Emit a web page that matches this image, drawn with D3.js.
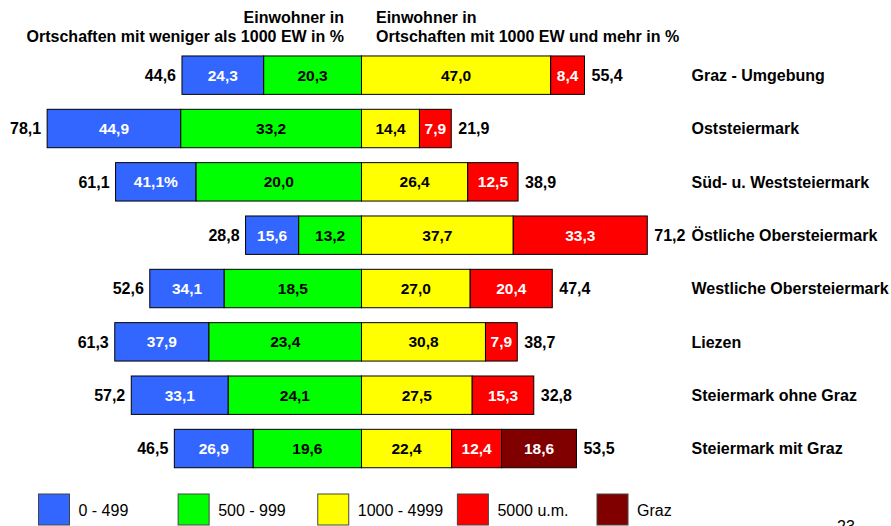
<!DOCTYPE html>
<html>
<head>
<meta charset="utf-8">
<script src="https://cdn.jsdelivr.net/npm/d3@7"></script>
<style>
	body { margin:0; background:#fff; }
	text { font-family: Arial, "Liberation Sans", sans-serif; }
</style>
</head>
<body>
<div id="plot"></div>
<script>
/* data */
var regions = ['Graz - Umgebung','Oststeiermark','Süd- u. Weststeiermark','Östliche Obersteiermark',
	'Westliche Obersteiermark','Liezen','Steiermark ohne Graz','Steiermark mit Graz'];
var v0_499 =     [24.3, 44.9, 41.1, 15.6, 34.1, 37.9, 33.1, 26.9];
var v500_999 =   [20.3, 33.2, 20.0, 13.2, 18.5, 23.4, 24.1, 19.6];
var v1000_4999 = [47.0, 14.4, 26.4, 37.7, 27.0, 30.8, 27.5, 22.4];
var v5000 =      [8.4, 7.9, 12.5, 33.3, 20.4, 7.9, 15.3, 12.4];
var vGraz =      [0, 0, 0, 0, 0, 0, 0, 18.6];
var leftTotals =  [44.6, 78.1, 61.1, 28.8, 52.6, 61.3, 57.2, 46.5];
var rightTotals = [55.4, 21.9, 38.9, 71.2, 47.4, 38.7, 32.8, 53.5];
var blueSuffix =  ['', '', '%', '', '', '', '', ''];
var legendLabels = ['0 - 499','500 - 999','1000 - 4999','5000 u.m.','Graz'];
var colors = ['#3366ff','#00ff00','#ffff00','#ff0000','#800000'];

var width = 891, height = 526;

var svg = d3.select('#plot')
	.append('svg')
	.attr('width', width)
	.attr('height', height);

var x = d3.scaleLinear().domain([-80, 80]).range([39.5, 683.5]);
var y = d3.scaleBand().domain(regions).range([48.5, 475.2])
	.paddingInner(0.28).paddingOuter(0.14);

function fmt(v) { return d3.format('.1f')(v).replace('.', ','); }

// one record per segment. the reference draws the inner (green) left piece
// with the 0-499 width and the outer (blue) piece with the 500-999 width
var segs = [];
regions.forEach(function (r, i) {
	var a = v0_499[i], b = v500_999[i];
	segs.push({r:r, x0:-(a+b), x1:-a, c:0, text:fmt(a)+blueSuffix[i], fill:'#fff'});
	segs.push({r:r, x0:-a, x1:0, c:1, text:fmt(b), fill:'#000'});
	var pos = 0;
	[v1000_4999[i], v5000[i], vGraz[i]].forEach(function (v, k) {
		if (v > 0) {
			segs.push({r:r, x0:pos, x1:pos+v, c:k+2, text:fmt(v), fill: k == 0 ? '#000' : '#fff'});
			pos += v;
		}
	});
});

svg.selectAll('.seg')
	.data(segs)
	.enter()
	.append('rect')
	.attr('class', 'seg')
	.attr('x', function (d) { return x(d.x0); })
	.attr('y', function (d) { return y(d.r); })
	.attr('width', function (d) { return x(d.x1) - x(d.x0); })
	.attr('height', y.bandwidth())
	.style('fill', function (d) { return colors[d.c]; })
	.style('stroke', '#000')
	.style('stroke-width', 1);

svg.selectAll('.seglabel')
	.data(segs)
	.enter()
	.append('text')
	.attr('class', 'seglabel')
	.attr('x', function (d) { return (x(d.x0) + x(d.x1)) / 2; })
	.attr('y', function (d) { return y(d.r) + y.bandwidth() / 2; })
	.attr('dy', '0.36em')
	.attr('text-anchor', 'middle')
	.style('font-size', '15.5px')
	.style('font-weight', 'bold')
	.style('fill', function (d) { return d.fill; })
	.text(function (d) { return d.text; });

// totals either side
svg.selectAll('.ltot')
	.data(regions)
	.enter()
	.append('text')
	.attr('x', function (d, i) { return x(-(v0_499[i] + v500_999[i])) - 6; })
	.attr('y', function (d) { return y(d) + y.bandwidth() / 2; })
	.attr('dy', '0.36em')
	.attr('text-anchor', 'end')
	.style('font-size', '16px')
	.style('font-weight', 'bold')
	.text(function (d, i) { return fmt(leftTotals[i]); });

svg.selectAll('.rtot')
	.data(regions)
	.enter()
	.append('text')
	.attr('x', function (d, i) { return x(v1000_4999[i] + v5000[i] + vGraz[i]) + 7; })
	.attr('y', function (d) { return y(d) + y.bandwidth() / 2; })
	.attr('dy', '0.36em')
	.style('font-size', '16px')
	.style('font-weight', 'bold')
	.text(function (d, i) { return fmt(rightTotals[i]); });

svg.selectAll('.cat')
	.data(regions)
	.enter()
	.append('text')
	.attr('x', 691.5)
	.attr('y', function (d) { return y(d) + y.bandwidth() / 2; })
	.attr('dy', '0.36em')
	.style('font-size', '16px')
	.style('font-weight', 'bold')
	.text(function (d) { return d; });

// headers
var head = svg.append('g').style('font-size', '16px').style('font-weight', 'bold');
head.append('text').attr('x', 344).attr('y', 22.5).attr('text-anchor', 'end').text('Einwohner in');
head.append('text').attr('x', 344).attr('y', 41.5).attr('text-anchor', 'end')
	.text('Ortschaften mit weniger als 1000 EW in %');
head.append('text').attr('x', 376).attr('y', 22.5).text('Einwohner in');
head.append('text').attr('x', 376).attr('y', 41.5).text('Ortschaften mit 1000 EW und mehr in %');

// legend
var lx = d3.scalePoint().domain(legendLabels).range([38.5, 597]);
var leg = svg.selectAll('.leg')
	.data(legendLabels)
	.enter()
	.append('g')
	.attr('class', 'leg')
	.attr('transform', function (d) { return 'translate(' + lx(d) + ',494)'; });

leg.append('rect')
	.attr('width', 31)
	.attr('height', 31)
	.style('fill', function (d, i) { return colors[i]; })
	.style('stroke', '#444')
	.style('stroke-width', 1);

leg.append('text')
	.attr('x', 40)
	.attr('y', 22)
	.style('font-size', '16px')
	.text(function (d) { return d; });

// page number, cut by the bottom edge as in the reference
svg.append('text')
	.attr('x', 837)
	.attr('y', 532)
	.style('font-size', '16px')
	.text('23');
</script>
</body>
</html>
